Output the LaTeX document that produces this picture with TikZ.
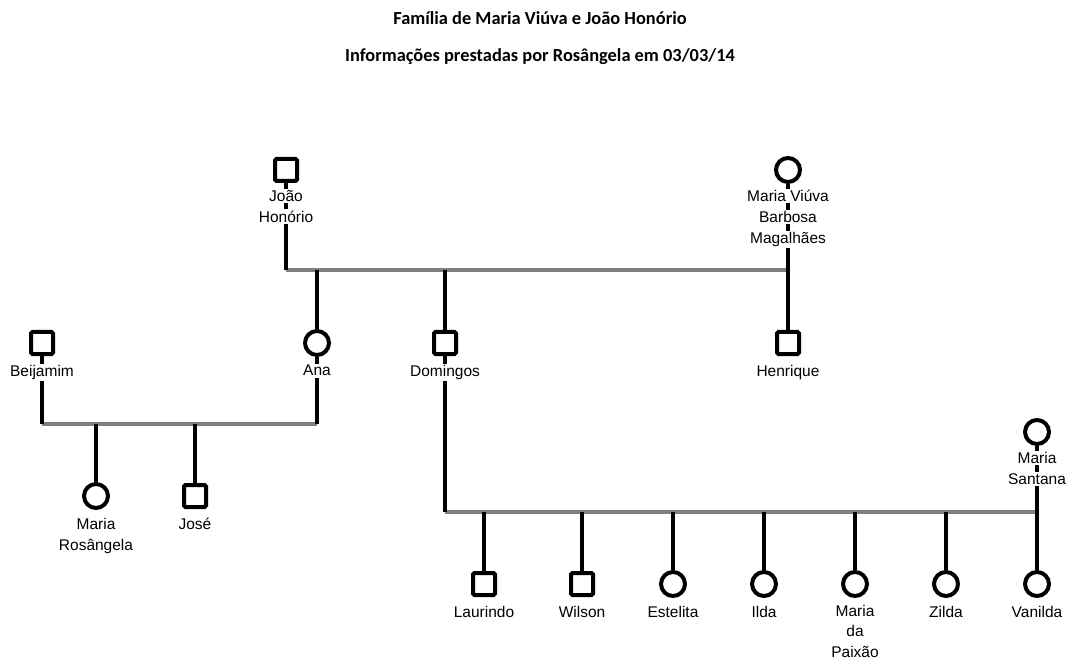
\documentclass[tikz,border=0pt]{standalone}
\usepackage{fontspec}
\setmainfont{Liberation Sans}
\newfontfamily\titlefont{Carlito}
\usetikzlibrary{backgrounds}
% one text line on a white patch, so the kin line only shows between lines
\newcommand{\wl}[1]{{\setlength{\fboxsep}{1.5pt}\colorbox{white}{#1}}}
\begin{document}
\begin{tikzpicture}[x=1pt,y=-1pt,
  male/.style={rectangle, draw=black, line width=4pt, rounded corners=1.5pt, fill=white, minimum size=22pt, inner sep=0pt},
  female/.style={circle, draw=black, line width=4pt, fill=white, minimum size=24pt, inner sep=0pt},
  kin/.style={line width=3.2pt, black},
  union/.style={line width=3.2pt, color={rgb,255:red,128;green,128;blue,128}},
  lbl/.style={anchor=north, align=center, inner sep=0pt, font=\fontsize{15.5}{21}\selectfont},
  title/.style={font=\titlefont\bfseries\fontsize{18.4}{22}\selectfont}]
\useasboundingbox (0,0) rectangle (1071,660);

% titles
\node[title] (t1) at (540,18) {Família de Maria Viúva e João Honório};
\node[title] (t2) at (540,57) {Informações prestadas por Rosângela em 03/03/14};

% persons
\node[male]   (jh)   at (286,170) {};
\node[female] (mv)   at (788,170) {};
\node[male]   (bei)  at (42,343)  {};
\node[female] (ana)  at (317,343) {};
\node[male]   (dom)  at (445,343) {};
\node[male]   (hen)  at (788,343) {};
\node[female] (mr)   at (96,496)  {};
\node[male]   (jose) at (195,496) {};
\node[female] (ms)   at (1037,432) {};
\node[male]   (lau)  at (484,584) {};
\node[male]   (wil)  at (582,584) {};
\node[female] (est)  at (673,584) {};
\node[female] (ilda) at (764,584) {};
\node[female] (mdp)  at (855,584) {};
\node[female] (zil)  at (946,584) {};
\node[female] (van)  at (1037,584) {};

% marriage lines
\coordinate (u1L) at (286,270);
\coordinate (u1R) at (788,270);
\coordinate (u2L) at (42,424);
\coordinate (u2R) at (317,424);
\coordinate (u3L) at (445,512);
\coordinate (u3R) at (1037,512);

\begin{scope}[on background layer]
  \draw[union] (u1L) -- (u1R);
  \draw[union] (u2L) -- (u2R);
  \draw[union] (u3L) -- (u3R);
  % spouses
  \draw[kin] (jh.south) -- (u1L);
  \draw[kin] (mv.south) -- (hen.north);
  \draw[kin] (bei.south) -- (u2L);
  \draw[kin] (ana.south) -- (u2R);
  \draw[kin] (dom.south) -- (u3L);
  \draw[kin] (ms.south) -- (van.north);
  % children
  \draw[kin] (ana.north) -- (ana.north |- u1L);
  \draw[kin] (dom.north) -- (dom.north |- u1L);
  \draw[kin] (mr.north) -- (mr.north |- u2L);
  \draw[kin] (jose.north) -- (jose.north |- u2L);
  \foreach \c in {lau,wil,est,ilda,mdp,zil}
    \draw[kin] (\c.north) -- (\c.north |- u3L);
\end{scope}

% names
\node[lbl] (jh-l)   at (286,188.5) {\wl{João}\\\wl{Honório}};
\node[lbl] (mv-l)   at (788,188.5) {\wl{Maria Viúva}\\\wl{Barbosa}\\\wl{Magalhães}};
\node[lbl] (bei-l)  at (42,363.5)  {\wl{Beijamim}};
\node[lbl] (ana-l)  at (317,363.5) {\wl{Ana}};
\node[lbl] (dom-l)  at (445,363.5) {\wl{Domingos}};
\node[lbl] (hen-l)  at (788,363.5) {\wl{Henrique}};
\node[lbl] (mr-l)   at (96,516.5)  {\wl{Maria}\\\wl{Rosângela}};
\node[lbl] (jose-l) at (195,516.5) {\wl{José}};
\node[lbl] (ms-l)   at (1037,450.5) {\wl{Maria}\\\wl{Santana}};
\node[lbl] (lau-l)  at (484,604.5) {\wl{Laurindo}};
\node[lbl] (wil-l)  at (582,604.5) {\wl{Wilson}};
\node[lbl] (est-l)  at (673,604.5) {\wl{Estelita}};
\node[lbl] (ilda-l) at (764,604.5) {\wl{Ilda}};
\node[lbl, font=\fontsize{15.5}{20.5}\selectfont] (mdp-l) at (855,603.5) {\wl{Maria}\\\wl{da}\\\wl{Paixão}};
\node[lbl] (zil-l)  at (946,604.5) {\wl{Zilda}};
\node[lbl] (van-l)  at (1037,604.5) {\wl{Vanilda}};
\end{tikzpicture}
\end{document}
